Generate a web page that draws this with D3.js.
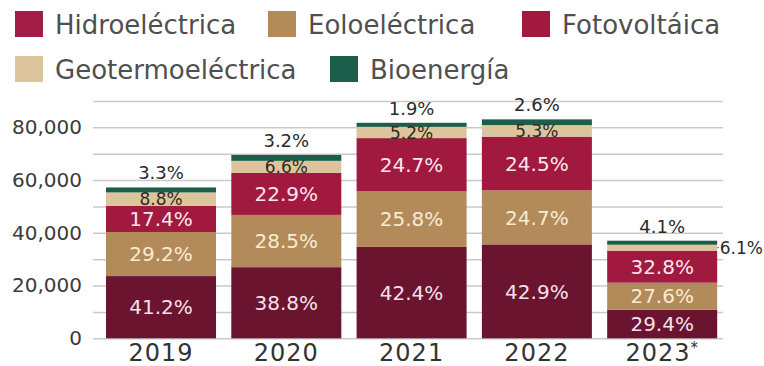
<!DOCTYPE html>
<html>
<head>
<meta charset="utf-8">
<script src="https://cdn.jsdelivr.net/npm/d3@7"></script>
<style>
  html, body { margin: 0; padding: 0; background: #fff; }
  svg { display: block; font-family: "DejaVu Sans", sans-serif; }
</style>
</head>
<body>
<svg id="chart" width="764" height="366"></svg>
<script>
const years = ['2019', '2020', '2021', '2022', '2023*'];
const totals = [57250, 69500, 81700, 83000, 37000];

// participación de cada tecnología (%)
const hidro = [41.2, 38.8, 42.4, 42.9, 29.4];
const eolo = [29.2, 28.5, 25.8, 24.7, 27.6];
const foto = [17.4, 22.9, 24.7, 24.5, 32.8];
const geo = [8.8, 6.6, 5.2, 5.3, 6.1];
const bio = [3.3, 3.2, 1.9, 2.6, 4.1];

const seriesNames = ['Hidroeléctrica', 'Eoloeléctrica', 'Fotovoltáica', 'Geotermoeléctrica', 'Bioenergía'];
const yTicks = [0, 10000, 20000, 30000, 40000, 50000, 60000, 70000, 80000, 90000];

const colors = ['#6a1430', '#b38a5a', '#a1193f', '#dcc49c', '#1d5e4b'];
const legendColors = ['#a11d46', '#b38a5a', '#a1193f', '#dcc49c', '#1d5e4b'];
const labelColors = ['#f6e1ea', '#f8ecd2', '#fbe6ee'];

const shares = [hidro, eolo, foto, geo, bio];
const rows = years.map((yr, i) => {
  const r = {year: yr};
  seriesNames.forEach((s, k) => { r[s] = totals[i] * shares[k][i] / 100; });
  return r;
});

const svg = d3.select('#chart');

const x = d3.scaleBand()
  .domain(years)
  .range([98.5, 724.7])
  .paddingInner(0.122)
  .paddingOuter(0.06);

const y = d3.scaleLinear()
  .domain([0, 90000])
  .range([338.3, 100.9]);

// rejilla y etiquetas del eje y
const yAxis = svg.append('g')
  .attr('transform', 'translate(93,0)')
  .call(d3.axisLeft(y)
    .tickValues(yTicks)
    .tickSizeInner(-630)
    .tickSizeOuter(0)
    .tickPadding(11)
    .tickFormat(d => d % 20000 === 0 ? d3.format(',')(d) : ''));
yAxis.select('.domain').remove();
yAxis.selectAll('.tick line').attr('stroke', '#c9c9c9').attr('stroke-width', 1.5);
yAxis.selectAll('.tick text')
  .attr('fill', '#3b3b3b')
  .style('font-size', '20px')
  .style('font-family', '"DejaVu Sans", sans-serif');

// barras apiladas
const stack = d3.stack().keys(seriesNames);
const stacked = stack(rows);

svg.append('g')
  .selectAll('g')
  .data(stacked)
  .enter()
  .append('g')
  .attr('fill', (d, i) => colors[i])
  .selectAll('rect')
  .data(d => d)
  .enter()
  .append('rect')
  .attr('x', d => x(d.data.year))
  .attr('width', x.bandwidth())
  .attr('y', d => y(d[1]))
  .attr('height', d => y(d[0]) - y(d[1]));

// eje x (el asterisco de 2023 va pequeño y elevado)
const xAxis = svg.append('g')
  .attr('transform', `translate(0,${y(0)})`)
  .call(d3.axisBottom(x).tickSize(0).tickPadding(6));
xAxis.select('.domain').remove();
xAxis.selectAll('.tick text')
  .attr('fill', '#333')
  .style('font-size', '24px')
  .style('letter-spacing', '1px')
  .style('font-family', '"DejaVu Sans", sans-serif')
  .each(function(d) {
    if (d.endsWith('*')) {
      const t = d3.select(this).text(d.slice(0, -1));
      t.append('tspan')
        .attr('dy', '-0.55em')
        .style('font-size', '15px')
        .text('*');
    }
  });

// etiquetas dentro de las barras (hidro, eolo, foto)
const labels = svg.append('g');
stacked.slice(0, 3).forEach((layer, k) => {
  labels.selectAll(null)
    .data(layer)
    .enter()
    .append('text')
    .attr('x', d => x(d.data.year) + x.bandwidth() / 2)
    .attr('y', d => (y(d[0]) + y(d[1])) / 2)
    .attr('dy', '0.36em')
    .attr('text-anchor', 'middle')
    .attr('fill', labelColors[k])
    .style('font-size', '20px')
    .text((d, i) => shares[k][i].toFixed(1) + '%');
});

// geotermia: centrada en su franja, salvo la última que va a la derecha
const geoLayer = stacked[3];
const last = years.length - 1;
labels.selectAll(null)
  .data(geoLayer.slice(0, last))
  .enter()
  .append('text')
  .attr('x', d => x(d.data.year) + x.bandwidth() / 2)
  .attr('y', d => (y(d[0]) + y(d[1])) / 2)
  .attr('dy', '0.36em')
  .attr('text-anchor', 'middle')
  .attr('fill', '#2e2a22')
  .style('font-size', '17px')
  .text((d, i) => geo[i].toFixed(1) + '%');

const g23 = geoLayer[last];
const g23y = (y(g23[0]) + y(g23[1])) / 2;
const barRight = x(years[last]) + x.bandwidth();
const g23text = labels.append('text')
  .attr('x', 763)
  .attr('y', g23y)
  .attr('dy', '0.36em')
  .attr('text-anchor', 'end')
  .attr('fill', '#2b2b2b')
  .style('font-size', '17px')
  .text(geo[last].toFixed(1) + '%');
const g23start = 763 - g23text.node().getComputedTextLength();
labels.append('line')
  .attr('x1', barRight)
  .attr('x2', g23start - 1)
  .attr('y1', g23y)
  .attr('y2', g23y)
  .attr('stroke', '#555')
  .attr('stroke-width', 1);

// bioenergía: encima de la barra
labels.selectAll(null)
  .data(stacked[4])
  .enter()
  .append('text')
  .attr('x', d => x(d.data.year) + x.bandwidth() / 2)
  .attr('y', d => y(d[1]) - 8)
  .attr('text-anchor', 'middle')
  .attr('fill', '#2b2b2b')
  .style('font-size', '18px')
  .text((d, i) => bio[i].toFixed(1) + '%');

// leyenda
const legendPos = [[15, 11], [268, 11], [522, 11], [15, 56], [330, 56]];
const legend = svg.append('g')
  .selectAll('g')
  .data(seriesNames)
  .enter()
  .append('g')
  .attr('transform', (d, i) => `translate(${legendPos[i][0]},${legendPos[i][1]})`);
legend.append('rect')
  .attr('width', 28)
  .attr('height', 26)
  .attr('fill', (d, i) => legendColors[i]);
legend.append('text')
  .attr('x', 40)
  .attr('y', 23)
  .attr('fill', '#4f4f4f')
  .style('font-size', '26px')
  .text(d => d);
</script>
</body>
</html>
